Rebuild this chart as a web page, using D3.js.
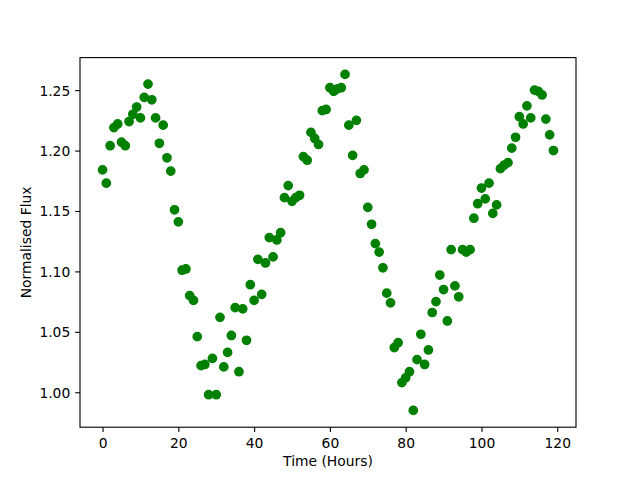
<!DOCTYPE html>
<html>
<head>
<meta charset="utf-8">
<script src="https://cdn.jsdelivr.net/npm/d3@7"></script>
<style>
  html, body { margin: 0; padding: 0; background: #fff; }
  svg { display: block; font-family: "DejaVu Sans", sans-serif; }
</style>
</head>
<body>
<svg id="chart" width="640" height="480"></svg>
<script>
const hours = [0,1,2,3,4,5,6,7,8,9,10,11,12,13,14,15,16,17,18,19,
  20,21,22,23,24,25,26,27,28,29,30,31,32,33,34,35,36,37,38,39,
  40,41,42,43,44,45,46,47,48,49,50,51,52,53,54,55,56,57,58,59,
  60,61,62,63,64,65,66,67,68,69,70,71,72,73,74,75,76,77,78,79,
  80,81,82,83,84,85,86,87,88,89,90,91,92,93,94,95,96,97,98,99,
  100,101,102,103,104,105,106,107,108,109,110,111,112,113,114,115,116,117,118,119];

const flux = [1.184,1.173,1.204,1.219,1.222,1.207,1.204,1.224,1.230,1.236,
  1.227,1.244,1.255,1.242,1.227,1.206,1.221,1.194,1.183,1.151,
  1.141,1.101,1.102,1.080,1.076,1.046,1.022,1.023,0.998,1.028,
  0.998,1.062,1.021,1.033,1.047,1.070,1.017,1.069,1.043,1.089,
  1.076,1.110,1.081,1.107,1.128,1.112,1.126,1.132,1.161,1.171,
  1.158,1.161,1.163,1.195,1.192,1.215,1.210,1.205,1.233,1.234,
  1.252,1.249,1.251,1.252,1.263,1.221,1.196,1.225,1.181,1.184,
  1.153,1.139,1.123,1.116,1.103,1.082,1.074,1.037,1.041,1.008,
  1.012,1.017,0.985,1.027,1.048,1.023,1.035,1.066,1.075,1.097,
  1.085,1.059,1.118,1.088,1.079,1.118,1.116,1.118,1.144,1.156,
  1.169,1.160,1.173,1.148,1.155,1.185,1.188,1.190,1.202,1.211,
  1.228,1.222,1.237,1.227,1.250,1.249,1.246,1.226,1.213,1.200];

const xTicks = [0, 20, 40, 60, 80, 100, 120];
const yTicks = [1.00, 1.05, 1.10, 1.15, 1.20, 1.25];
const xLabel = "Time (Hours)";
const yLabel = "Normalised Flux";

const mLeft = 80, mRight = 576, mTop = 57.6, mBottom = 427.2;
const fontPx = 13.89;
const tickLen = 4.86, tickPad = 4.86;
const pointColor = "#008000";

function padded(ext) {
  const r = ext[1] - ext[0];
  return [ext[0] - 0.05 * r, ext[1] + 0.05 * r];
}

const xScale = d3.scaleLinear().domain(padded(d3.extent(hours))).range([mLeft, mRight]);
const yScale = d3.scaleLinear().domain(padded(d3.extent(flux))).range([mBottom, mTop]);

const svg = d3.select("#chart");

// points
svg.append("g")
  .selectAll("circle")
  .data(hours.map((h, i) => [h, flux[i]]))
  .join("circle")
  .attr("cx", d => xScale(d[0]))
  .attr("cy", d => yScale(d[1]))
  .attr("r", 4.17)
  .attr("fill", pointColor)
  .attr("stroke", pointColor)
  .attr("stroke-width", 1.39);

// axes
const xAxis = d3.axisBottom(xScale).tickValues(xTicks).tickFormat(d3.format("d"))
  .tickSizeInner(tickLen).tickSizeOuter(0).tickPadding(tickPad);
const yAxis = d3.axisLeft(yScale).tickValues(yTicks).tickFormat(d3.format(".2f"))
  .tickSizeInner(tickLen).tickSizeOuter(0).tickPadding(tickPad);

const gx = svg.append("g").attr("transform", `translate(0,${mBottom})`).call(xAxis);
const gy = svg.append("g").attr("transform", `translate(${mLeft},0)`).call(yAxis);

[gx, gy].forEach(g => {
  g.attr("font-family", null).attr("font-size", null);
  g.select(".domain").remove();
  g.selectAll(".tick line").attr("stroke", "#000").attr("stroke-width", 1.11);
  g.selectAll(".tick text").attr("fill", "#000")
    .style("font-family", '"DejaVu Sans", sans-serif')
    .style("font-size", fontPx + "px");
});
gx.selectAll(".tick text").attr("dy", null).attr("y", 20.8);
gy.selectAll(".tick text").attr("dy", "0.36em");

// frame
svg.append("rect")
  .attr("x", mLeft).attr("y", mTop)
  .attr("width", mRight - mLeft).attr("height", mBottom - mTop)
  .attr("fill", "none").attr("stroke", "#000").attr("stroke-width", 1.11);

// labels
svg.append("text")
  .attr("x", (mLeft + mRight) / 2).attr("y", 466)
  .attr("text-anchor", "middle")
  .style("font-size", fontPx + "px")
  .attr("fill", "#000")
  .text(xLabel);

svg.append("text")
  .attr("transform", `translate(31,${(mTop + mBottom) / 2}) rotate(-90)`)
  .attr("text-anchor", "middle")
  .style("font-size", fontPx + "px")
  .attr("fill", "#000")
  .text(yLabel);
</script>
</body>
</html>
